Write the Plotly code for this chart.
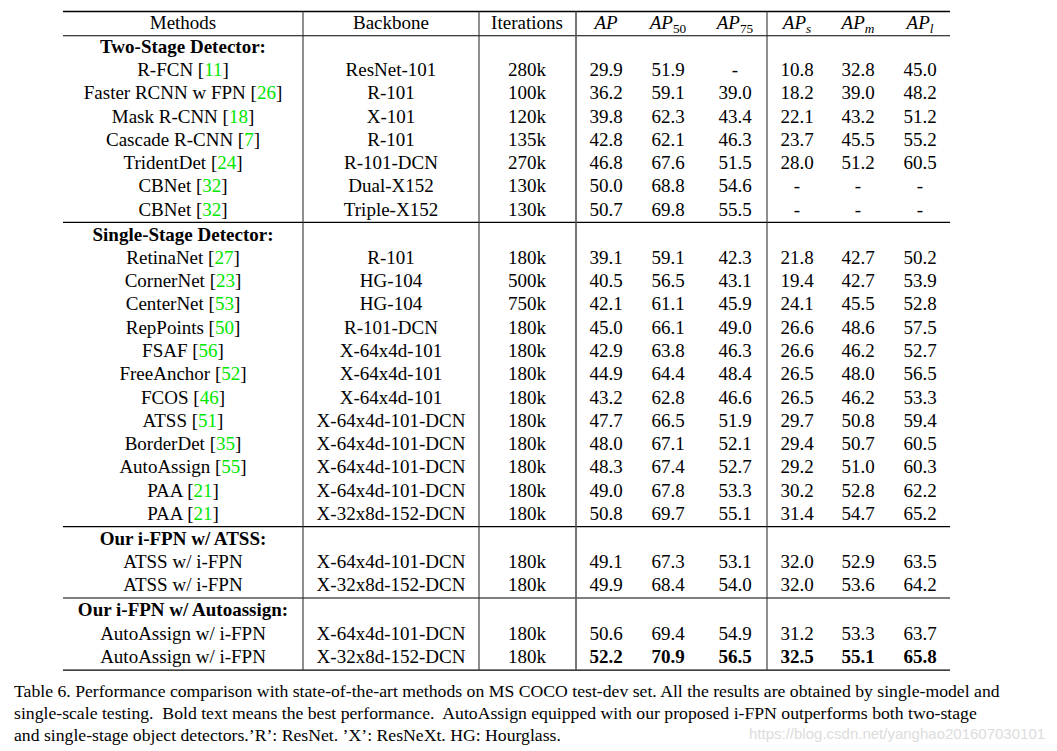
import plotly.graph_objects as go

# ---------------- data ----------------
groups = ["Two-Stage Detector:", "Single-Stage Detector:",
          "Our i-FPN w/ ATSS:", "Our i-FPN w/ Autoassign:"]
group_sizes = [7, 12, 2, 2]

methods = ["R-FCN", "Faster RCNN w FPN", "Mask R-CNN", "Cascade R-CNN", "TridentDet",
           "CBNet", "CBNet",
           "RetinaNet", "CornerNet", "CenterNet", "RepPoints", "FSAF", "FreeAnchor",
           "FCOS", "ATSS", "BorderDet", "AutoAssign", "PAA", "PAA",
           "ATSS w/ i-FPN", "ATSS w/ i-FPN",
           "AutoAssign w/ i-FPN", "AutoAssign w/ i-FPN"]
refs = ["11", "26", "18", "7", "24", "32", "32",
        "27", "23", "53", "50", "56", "52", "46", "51", "35", "55", "21", "21",
        "", "", "", ""]
backbones = ["ResNet-101", "R-101", "X-101", "R-101", "R-101-DCN", "Dual-X152", "Triple-X152",
             "R-101", "HG-104", "HG-104", "R-101-DCN", "X-64x4d-101", "X-64x4d-101",
             "X-64x4d-101", "X-64x4d-101-DCN", "X-64x4d-101-DCN", "X-64x4d-101-DCN",
             "X-64x4d-101-DCN", "X-32x8d-152-DCN",
             "X-64x4d-101-DCN", "X-32x8d-152-DCN",
             "X-64x4d-101-DCN", "X-32x8d-152-DCN"]
iterations = ["280k", "100k", "120k", "135k", "270k", "130k", "130k",
              "180k", "500k", "750k", "180k", "180k", "180k", "180k", "180k", "180k",
              "180k", "180k", "180k", "180k", "180k", "180k", "180k"]
ap = [29.9, 36.2, 39.8, 42.8, 46.8, 50.0, 50.7,
      39.1, 40.5, 42.1, 45.0, 42.9, 44.9, 43.2, 47.7, 48.0, 48.3, 49.0, 50.8,
      49.1, 49.9, 50.6, 52.2]
ap50 = [51.9, 59.1, 62.3, 62.1, 67.6, 68.8, 69.8,
        59.1, 56.5, 61.1, 66.1, 63.8, 64.4, 62.8, 66.5, 67.1, 67.4, 67.8, 69.7,
        67.3, 68.4, 69.4, 70.9]
ap75 = [None, 39.0, 43.4, 46.3, 51.5, 54.6, 55.5,
        42.3, 43.1, 45.9, 49.0, 46.3, 48.4, 46.6, 51.9, 52.1, 52.7, 53.3, 55.1,
        53.1, 54.0, 54.9, 56.5]
aps = [10.8, 18.2, 22.1, 23.7, 28.0, None, None,
       21.8, 19.4, 24.1, 26.6, 26.6, 26.5, 26.5, 29.7, 29.4, 29.2, 30.2, 31.4,
       32.0, 32.0, 31.2, 32.5]
apm = [32.8, 39.0, 43.2, 45.5, 51.2, None, None,
       42.7, 42.7, 45.5, 48.6, 46.2, 48.0, 46.2, 50.8, 50.7, 51.0, 52.8, 54.7,
       52.9, 53.6, 53.3, 55.1]
apl = [45.0, 48.2, 51.2, 55.2, 60.5, None, None,
       50.2, 53.9, 52.8, 57.5, 52.7, 56.5, 53.3, 59.4, 60.5, 60.3, 62.2, 65.2,
       63.5, 64.2, 63.7, 65.8]
best_row = 22  # index of the row shown in bold

headers = ["Methods", "Backbone", "Iterations", "<i>AP</i>", "<i>AP</i><sub>50</sub>",
           "<i>AP</i><sub>75</sub>", "<i>AP<sub>s</sub></i>", "<i>AP<sub>m</sub></i>",
           "<i>AP<sub>l</sub></i>"]

caption = [
    "Table 6. Performance comparison with state-of-the-art methods on MS COCO test-dev set. All the results are obtained by single-model and",
    "single-scale testing.&nbsp; Bold text means the best performance.&nbsp; AutoAssign equipped with our proposed i-FPN outperforms both two-stage",
    "and single-stage object detectors.’R’: ResNet. ’X’: ResNeXt. HG: Hourglass.",
]
watermark = "https://blog.csdn.net/yanghao201607030101"

# ---------------- layout constants ----------------
W, H = 1057, 751
col_x = [183, 391, 527, 606, 668, 735, 797, 858, 920]
vlines = [303, 479, 576, 767]
x_left, x_right = 63, 950
y_top, y_head_line, y_header = 11.5, 35.7, 24
row0, pitch, gap = 48, 23.28, 1.6
FONT = "Liberation Serif"
GREEN = "#00e600"


def fmt(v, bold=False):
    if v is None:
        return "-"
    s = f"{v:.1f}"
    return f"<b>{s}</b>" if bold else s


# build cells (column index, y, text)
cells = [[] for _ in range(9)]
for c in range(9):
    cells[c].append((y_header, headers[c]))
sep_y = []
k = 0
d = 0
last_y = 0
for g, (gname, gsize) in enumerate(zip(groups, group_sizes)):
    y = row0 + pitch * k + gap * g
    if g > 0:
        sep_y.append(y - 13.5)
    cells[0].append((y, f"<b>{gname}</b>"))
    k += 1
    for _ in range(gsize):
        y = row0 + pitch * k + gap * g
        last_y = y
        b = d == best_row
        name = methods[d]
        if refs[d]:
            name += f' [<span style="color:{GREEN}">{refs[d]}</span>]'
        cells[0].append((y, name))
        cells[1].append((y, backbones[d]))
        cells[2].append((y, iterations[d]))
        for c, arr in zip(range(3, 9), [ap, ap50, ap75, aps, apm, apl]):
            cells[c].append((y, fmt(arr[d], b)))
        k += 1
        d += 1
y_bottom = last_y + 12

fig = go.Figure()
for c in range(9):
    fig.add_trace(go.Scatter(
        x=[col_x[c]] * len(cells[c]),
        y=[t[0] for t in cells[c]],
        text=[t[1] for t in cells[c]],
        mode="text",
        textposition="middle center",
        textfont=dict(family=FONT, size=19, color="black"),
        hoverinfo="skip",
        showlegend=False,
    ))

shapes = []
for yy, wdt in [(y_top, 1.3), (y_head_line, 1.1)] + [(s, 1.1) for s in sep_y] + [(y_bottom, 1.3)]:
    shapes.append(dict(type="line", xref="x", yref="y", x0=x_left, x1=x_right,
                       y0=yy, y1=yy, line=dict(color="black", width=wdt)))
for i, vx in enumerate(vlines):
    shapes.append(dict(type="line", xref="x", yref="y", x0=vx, x1=vx,
                       y0=y_top, y1=y_bottom,
                       line=dict(color="#555555" if i == 2 else "#333333",
                                 width=1.6 if i == 2 else 1.1)))

annotations = []
for i, line in enumerate(caption):
    annotations.append(dict(
        x=12, y=691 + 22 * i, xref="x", yref="y", text=line, showarrow=False,
        xanchor="left", yanchor="middle",
        font=dict(family=FONT, size=17.7, color="black")))
annotations.append(dict(
    x=1047, y=733, xref="x", yref="y", text=watermark, showarrow=False,
    xanchor="right", yanchor="middle",
    font=dict(family="Liberation Sans", size=15, color="#dcdcdc")))

fig.update_layout(
    width=W, height=H,
    margin=dict(l=0, r=0, t=0, b=0),
    paper_bgcolor="white", plot_bgcolor="white",
    xaxis=dict(range=[0, W], visible=False, fixedrange=True),
    yaxis=dict(range=[H, 0], visible=False, fixedrange=True),
    shapes=shapes,
    annotations=annotations,
)

fig.write_html("out.html",
               config={"displayModeBar": False, "staticPlot": True},
               post_script="document.body.style.margin='0';document.body.style.overflow='hidden';")
